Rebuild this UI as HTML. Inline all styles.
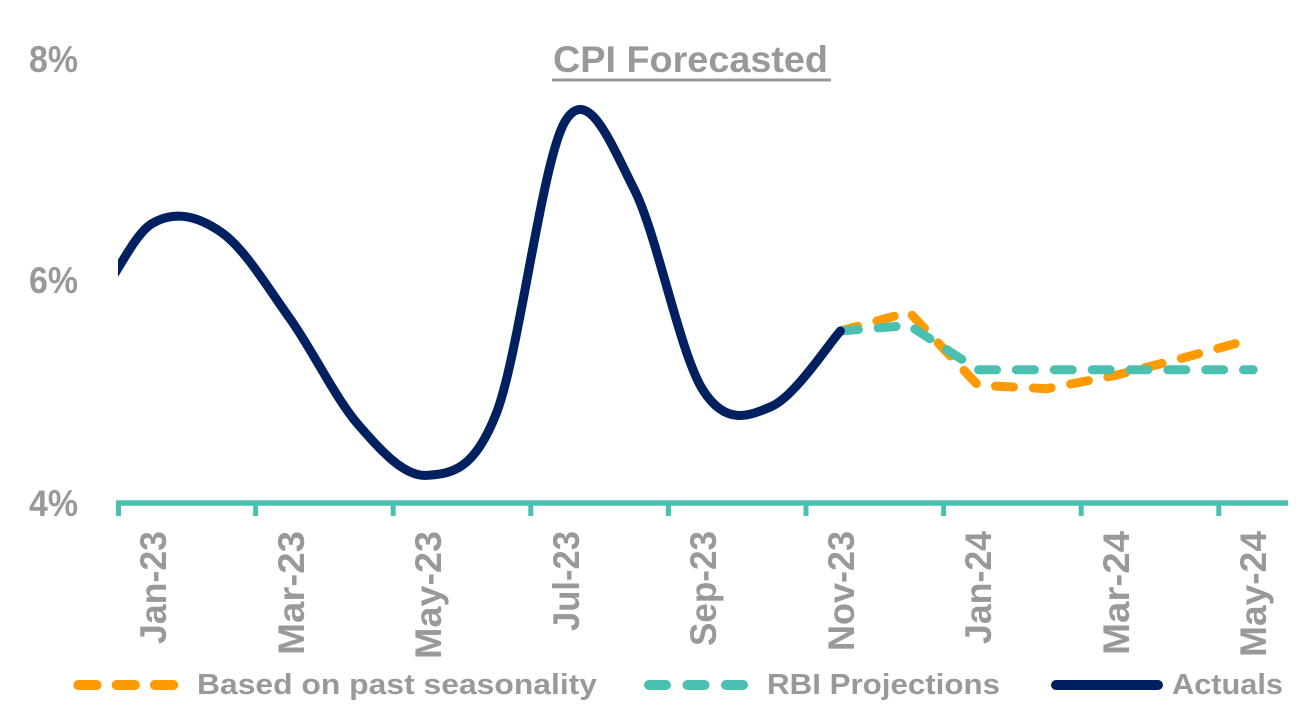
<!DOCTYPE html>
<html>
<head>
<meta charset="utf-8">
<style>
  html, body { margin: 0; padding: 0; background: #ffffff; }
  svg { display: block; }
  text { font-family: "Liberation Sans", Arial, sans-serif; font-weight: bold; fill: #999999; }
</style>
</head>
<body>
<svg width="1312" height="721" viewBox="0 0 1312 721" xmlns="http://www.w3.org/2000/svg">
  <defs>
    <clipPath id="plot">
      <rect x="118" y="0" width="1194" height="721"/>
    </clipPath>
  </defs>
  <rect x="0" y="0" width="1312" height="721" fill="#ffffff"/>

  <!-- Title -->
  <text x="553" y="72" font-size="37" textLength="275" lengthAdjust="spacingAndGlyphs">CPI Forecasted</text>
  <rect x="552" y="78.5" width="279" height="3" fill="#999999"/>

  <!-- Y axis labels -->
  <text x="29" y="72" font-size="37" textLength="49" lengthAdjust="spacingAndGlyphs">8%</text>
  <text x="29" y="293" font-size="37" textLength="49" lengthAdjust="spacingAndGlyphs">6%</text>
  <text x="29" y="516" font-size="37" textLength="49" lengthAdjust="spacingAndGlyphs">4%</text>

  <!-- X axis -->
  <line x1="116" y1="503" x2="1288" y2="503" stroke="#4CC0B0" stroke-width="5.5"/>
  <g stroke="#4CC0B0" stroke-width="5">
    <line x1="118.5" y1="503" x2="118.5" y2="516"/>
    <line x1="255.6" y1="503" x2="255.6" y2="516"/>
    <line x1="393.2" y1="503" x2="393.2" y2="516"/>
    <line x1="530.8" y1="503" x2="530.8" y2="516"/>
    <line x1="668.4" y1="503" x2="668.4" y2="516"/>
    <line x1="806" y1="503" x2="806" y2="516"/>
    <line x1="943.6" y1="503" x2="943.6" y2="516"/>
    <line x1="1081.2" y1="503" x2="1081.2" y2="516"/>
    <line x1="1218.8" y1="503" x2="1218.8" y2="516"/>
  </g>

  <!-- X axis labels (rotated) -->
  <g font-size="37" text-anchor="end">
    <text transform="translate(166,531) rotate(-90)" textLength="113" lengthAdjust="spacingAndGlyphs">Jan-23</text>
    <text transform="translate(304,531) rotate(-90)" textLength="124" lengthAdjust="spacingAndGlyphs">Mar-23</text>
    <text transform="translate(441,531) rotate(-90)" textLength="128" lengthAdjust="spacingAndGlyphs">May-23</text>
    <text transform="translate(579,531) rotate(-90)" textLength="100" lengthAdjust="spacingAndGlyphs">Jul-23</text>
    <text transform="translate(716,531) rotate(-90)" textLength="115" lengthAdjust="spacingAndGlyphs">Sep-23</text>
    <text transform="translate(854,531) rotate(-90)" textLength="120" lengthAdjust="spacingAndGlyphs">Nov-23</text>
    <text transform="translate(991,531) rotate(-90)" textLength="113" lengthAdjust="spacingAndGlyphs">Jan-24</text>
    <text transform="translate(1129,531) rotate(-90)" textLength="124" lengthAdjust="spacingAndGlyphs">Mar-24</text>
    <text transform="translate(1266,531) rotate(-90)" textLength="126" lengthAdjust="spacingAndGlyphs">May-24</text>
  </g>

  <!-- Based on past seasonality (orange dashed) -->
  <polyline points="840.4,331 909.2,312.1 978,385.3 1046.8,388.7 1115.6,375.35 1184.4,357.6 1253.2,338.7"
    fill="none" stroke="#FF9A00" stroke-width="9" stroke-linecap="round" stroke-linejoin="round"
    stroke-dasharray="18 19.86"/>

  <!-- RBI Projections (teal dashed) -->
  <polyline points="840.4,331 909.2,325.4 978,369.8 1253.2,369.8"
    fill="none" stroke="#4CC0B0" stroke-width="9" stroke-linecap="round" stroke-linejoin="round"
    stroke-dasharray="18 19.86"/>

  <!-- Actuals (navy smooth) -->
  <path clip-path="url(#plot)" fill="none" stroke="#002060" stroke-width="9" stroke-linecap="round" stroke-linejoin="round"
    d="M83.6,312.1
       C106.53,300.27 129.47,236.62 152.4,223.3
       C175.33,209.98 198.27,216.3 221.2,232.2
       C244.13,248.1 267.07,286.52 290.0,318.7
       C312.93,350.88 335.87,399.2 358.8,425.3
       C381.73,451.4 404.67,477.33 427.6,475.3
       C450.53,473.27 473.47,472.12 496.4,413.1
       C519.33,354.08 542.27,158.57 565.2,121.2
       C588.13,83.83 611.07,144.13 634.0,188.9
       C656.93,233.67 679.87,353.55 702.8,389.8
       C725.73,426.05 748.67,416.2 771.6,406.4
       C794.53,396.6 828.93,343.57 840.4,331.0"/>

  <!-- Legend -->
  <line x1="78.3" y1="685" x2="173.3" y2="685" stroke="#FF9A00" stroke-width="10" stroke-linecap="round" stroke-dasharray="18.3 20"/>
  <text x="197" y="694" font-size="29" textLength="400" lengthAdjust="spacingAndGlyphs">Based on past seasonality</text>

  <line x1="649" y1="685" x2="743.5" y2="685" stroke="#4CC0B0" stroke-width="10" stroke-linecap="round" stroke-dasharray="17 21.5"/>
  <text x="767" y="694" font-size="29" textLength="233" lengthAdjust="spacingAndGlyphs">RBI Projections</text>

  <line x1="1056" y1="685" x2="1158" y2="685" stroke="#002060" stroke-width="10" stroke-linecap="round"/>
  <text x="1172" y="694" font-size="29" textLength="111" lengthAdjust="spacingAndGlyphs">Actuals</text>
</svg>
</body>
</html>
